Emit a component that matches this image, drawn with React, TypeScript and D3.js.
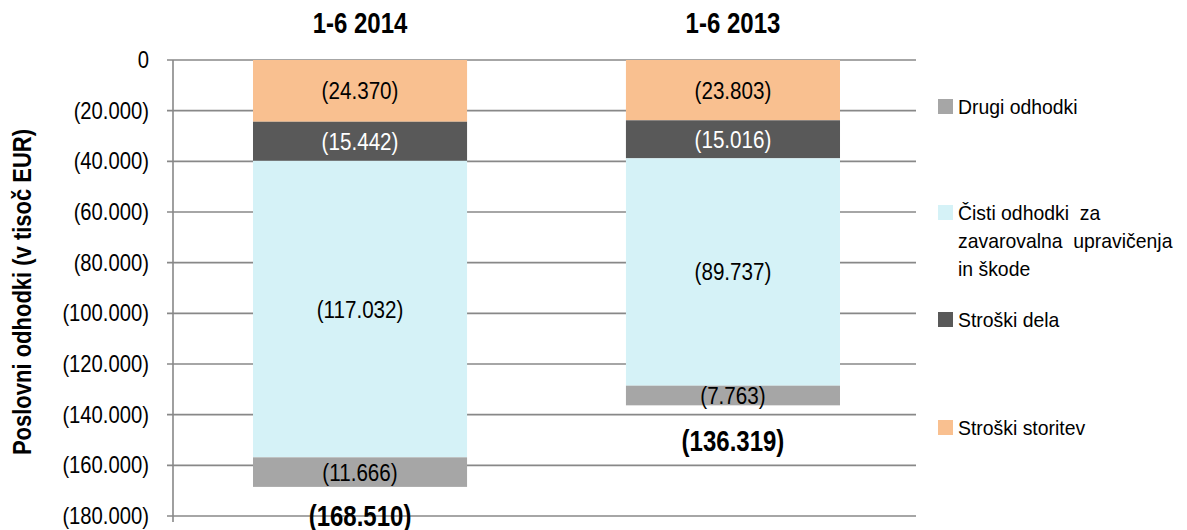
import React from "react";
import * as d3 from "d3";

const categories = ["1-6 2014", "1-6 2013"];
const seriesKeys = ["storitev", "dela", "cisti", "drugi"];
const storitev = [-24370, -23803];
const dela = [-15442, -15016];
const cisti = [-117032, -89737];
const drugi = [-11666, -7763];
const totals = [-168510, -136319];
const yTicks = [0, -20000, -40000, -60000, -80000, -100000, -120000, -140000, -160000, -180000];

const colors: Record<string, string> = {
  storitev: "#F9C090",
  dela: "#595959",
  cisti: "#D5F2F7",
  drugi: "#A6A6A6",
};
const labelColors: Record<string, string> = {
  storitev: "#000",
  dela: "#fff",
  cisti: "#000",
  drugi: "#000",
};

const legendItems = [
  { key: "drugi", lines: ["Drugi odhodki"], y: 114 },
  { key: "cisti", lines: ["Čisti odhodki  za", "zavarovalna  upravičenja", "in škode"], y: 220 },
  { key: "dela", lines: ["Stroški dela"], y: 327 },
  { key: "storitev", lines: ["Stroški storitev"], y: 435 },
];

const FONT = "'Liberation Sans', Arial, sans-serif";

const fmt = (v: number) => {
  const s = d3.format(",")(Math.abs(v)).replace(/,/g, ".");
  return v === 0 ? "0" : `(${s})`;
};

function NText(props: {
  x: number;
  y: number;
  sx: number;
  size: number;
  anchor?: string;
  weight?: string;
  fill?: string;
  dy?: string;
  children: React.ReactNode;
}) {
  const { x, y, sx, size, anchor = "start", weight = "normal", fill = "#000", dy, children } = props;
  return (
    <text
      transform={`translate(${x},${y}) scale(${sx},1)`}
      textAnchor={anchor}
      fontSize={size}
      fontWeight={weight}
      fill={fill}
      dy={dy}
      style={{ whiteSpace: "pre" }}
    >
      {children}
    </text>
  );
}

export default function App() {
  const width = 1187;
  const height = 530;
  const plotLeft = 173;
  const plotRight = 916;

  const y = d3.scaleLinear().domain([0, -180000]).range([60, 516]);
  const x = d3
    .scaleBand<string>()
    .domain(categories)
    .range([173, 920])
    .paddingInner(0.426)
    .paddingOuter(0.2145);

  const rows = categories.map((c, i) => ({
    cat: c,
    storitev: storitev[i],
    dela: dela[i],
    cisti: cisti[i],
    drugi: drugi[i],
  }));
  const stack = d3.stack<any>().keys(seriesKeys).offset(d3.stackOffsetDiverging);
  const stacked = stack(rows);

  return (
    <svg
      width={width}
      height={height}
      style={{ position: "absolute", left: 0, top: 0, background: "#fff" }}
      fontFamily={FONT}
    >
      {/* gridlines and tick labels */}
      {yTicks.map((t) => (
        <g key={t}>
          <line x1={plotLeft - 6} x2={plotRight} y1={y(t)} y2={y(t)} stroke="#888" strokeWidth={1.6} />
          <NText x={149} y={y(t)} dy="0.35em" sx={0.88} size={23} anchor="end">
            {fmt(t)}
          </NText>
        </g>
      ))}
      <line x1={plotLeft} x2={plotLeft} y1={y(0)} y2={y(-180000) + 6} stroke="#888" strokeWidth={1.6} />

      {/* bars */}
      {stacked.map((s) =>
        s.map((d, i) => {
          const y0 = y(d[0]);
          const y1 = y(d[1]);
          const top = Math.min(y0, y1);
          const h = Math.abs(y1 - y0);
          const cx = x(categories[i])! + x.bandwidth() / 2;
          return (
            <g key={s.key + i}>
              <rect x={x(categories[i])} y={top} width={x.bandwidth()} height={h} fill={colors[s.key]} />
              <NText x={cx} y={top + h / 2} dy="0.35em" anchor="middle" size={24} sx={0.86} fill={labelColors[s.key]}>
                {fmt(d[1] - d[0])}
              </NText>
            </g>
          );
        })
      )}

      {/* totals (clamped inside chart area) */}
      {categories.map((c, i) => (
        <NText
          key={c}
          x={x(c)! + x.bandwidth() / 2}
          y={Math.min(y(totals[i]) + 46, 526)}
          anchor="middle"
          size={30}
          sx={0.8}
          weight="bold"
        >
          {fmt(totals[i])}
        </NText>
      ))}

      {/* category titles */}
      {categories.map((c) => (
        <NText key={"t" + c} x={x(c)! + x.bandwidth() / 2} y={33} anchor="middle" size={30} sx={0.8} weight="bold">
          {c}
        </NText>
      ))}

      {/* y axis title */}
      <text
        transform="translate(31,292) rotate(-90) scale(0.88,1)"
        textAnchor="middle"
        fontSize={25}
        fontWeight="bold"
        fill="#000"
      >
        Poslovni odhodki (v tisoč EUR)
      </text>

      {/* legend */}
      {legendItems.map((it) => (
        <g key={it.key}>
          <rect x={938} y={it.y - 15} width={15} height={15} fill={colors[it.key]} />
          {it.lines.map((ln, j) => (
            <NText key={j} x={958} y={it.y + j * 28} size={20} sx={0.97}>
              {ln}
            </NText>
          ))}
        </g>
      ))}
    </svg>
  );
}
